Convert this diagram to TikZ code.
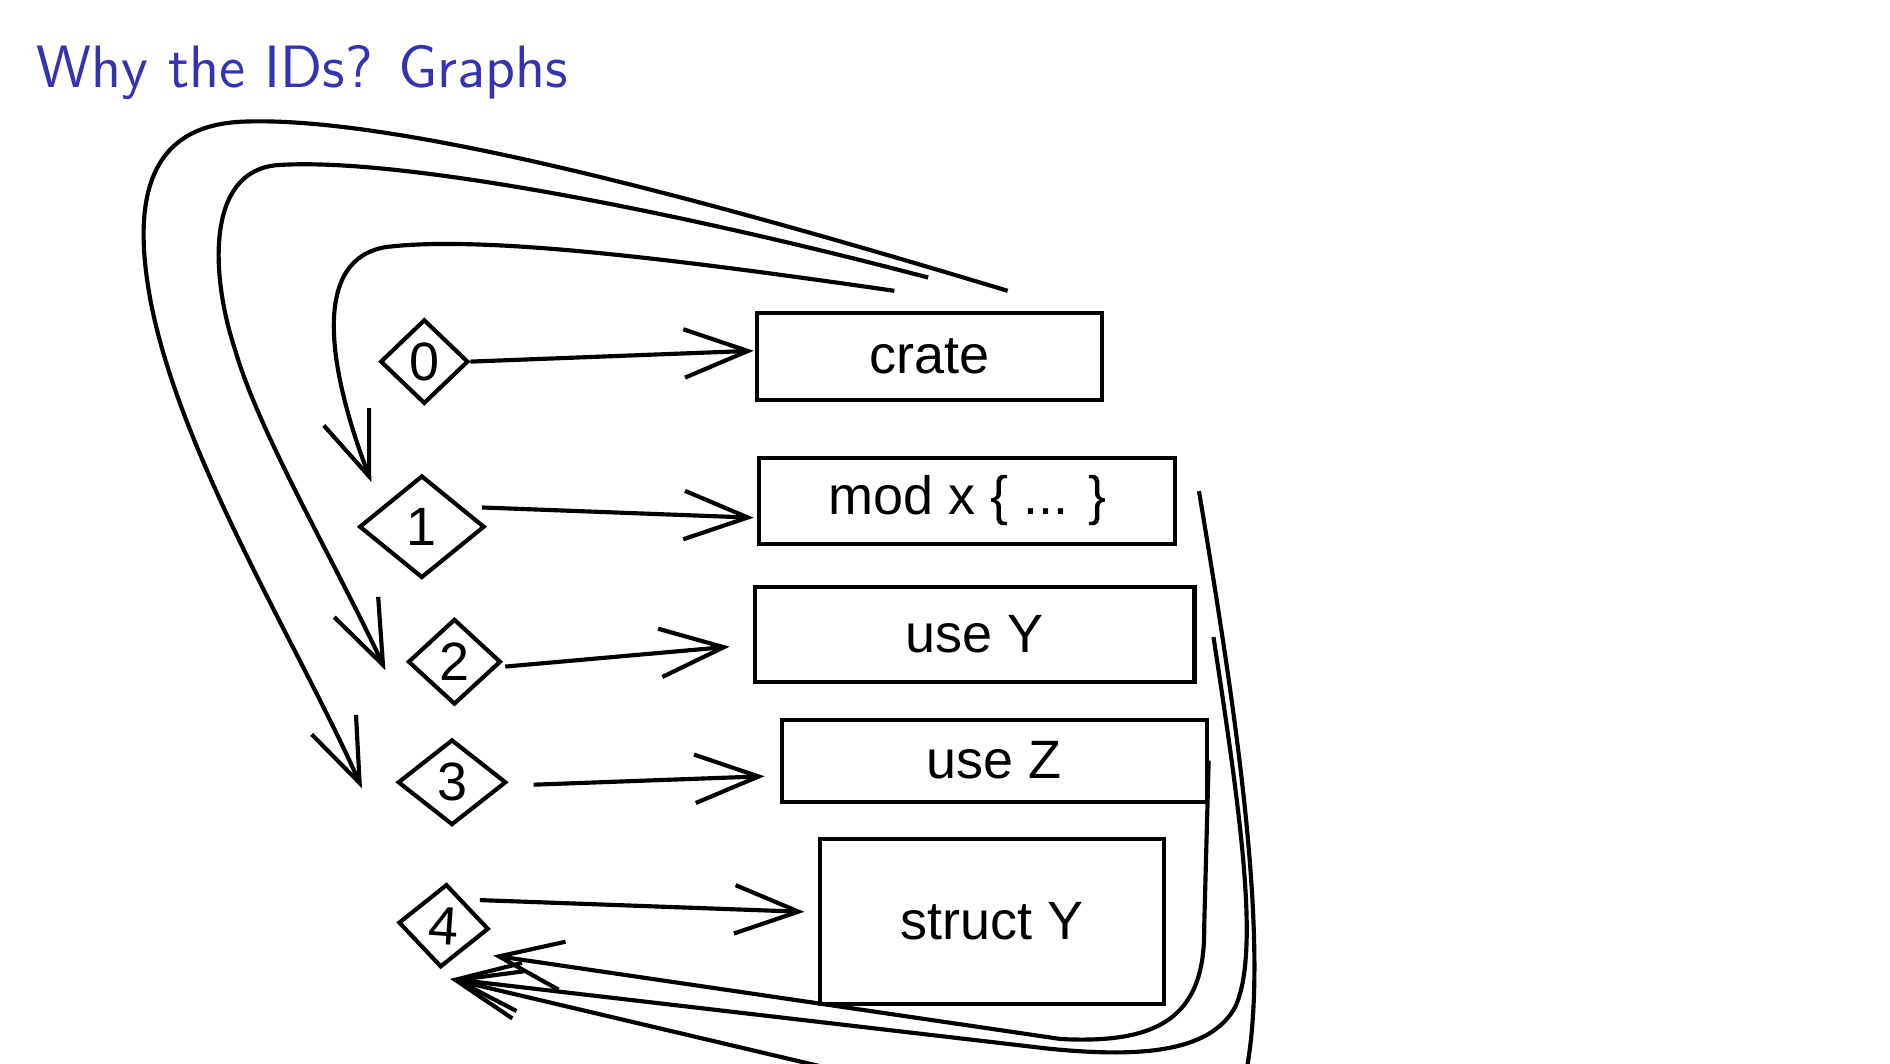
\documentclass[tikz,border=0pt]{standalone}
\usepackage{fontspec}
\newfontfamily\handfont{Liberation Sans}
\usetikzlibrary{arrows.meta,positioning,calc,shapes.geometric}
\definecolor{titleblue}{RGB}{51,51,179}

\tikzset{
  idnode/.style={draw, diamond, inner sep=0pt, line width=1pt,
    font=\handfont\fontsize{13}{15}\selectfont},
  itembox/.style={draw, rectangle, line width=1pt,
    font=\handfont\fontsize{13}{15}\selectfont},
  refarrow/.style={line width=1pt, -{Straight Barb[length=5.4mm,width=4.1mm]}},
}

\begin{document}
\begin{tikzpicture}[x=0.10204mm,y=-0.10204mm]
  \clip (0,0) rectangle (1568,882);
  \node[anchor=base west, inner sep=0pt, text=titleblue, font=\sffamily\fontsize{14.4}{17}\selectfont]
    (title) at (30,73) {Why the IDs? Graphs};

  % ids
  \node[idnode, minimum width=7.45mm, minimum height=7.14mm] (d0) at (352,300) {0};
  \node[idnode, minimum width=10.61mm, minimum height=8.67mm] (d1) at (350,437) {1};
  \node[idnode, minimum width=7.86mm, minimum height=7.24mm] (d2) at (377,549) {2};
  \node[idnode, minimum width=9.18mm, minimum height=7.24mm] (d3) at (375,649) {3};
  \node[idnode, minimum width=7.65mm, minimum height=7.04mm, rotate=-4] (d4) at (368,768) {4};

  % items
  \node[itembox, minimum width=29.18mm, minimum height=7.35mm] (crate) at (771,296) {crate};
  \node[itembox, minimum width=35.20mm, minimum height=7.24mm] (mod) at (802.5,415.5) {mod x \{ ... \}};
  \node[itembox, minimum width=37.24mm, minimum height=8.06mm] (useY) at (808.5,526.5) {use Y};
  \node[itembox, minimum width=35.92mm, minimum height=6.94mm] (useZ) at (825,631) {use Z};
  \node[itembox, minimum width=29.18mm, minimum height=13.98mm] (structY) at (823,764.5) {struct Y};

  % id -> item
  \draw[refarrow] (d0.east) -- ($(crate.west)+(-1,-5)$);
  \draw[refarrow] ($(d1.east)+(-4,-16)$) -- ($(mod.west)+(-3,14)$);
  \draw[refarrow] ($(d2.east)+(2,4)$) -- ($(useY.west)+(-19,10)$);
  \draw[refarrow] ($(d3.east)+(21,2)$) -- ($(useZ.west)+(-13,13)$);
  \draw[refarrow] ($(d4.east)+(-9,-24)$) -- ($(structY.west)+(-11,-8)$);

  % parent links
  \draw[refarrow] ($(crate.north)+(-29,-17)$) .. controls (560,215) and (400,195) .. (320,205)
    .. controls (260,215) and (270,300) .. ($(d1.north)+(-42,7)$);
  \draw[refarrow] ($(crate.north)+(-1,-28)$) .. controls (560,175) and (330,130) .. (230,137)
    .. controls (170,142) and (175,230) .. (195,290)
    .. controls (215,360) and (280,470) .. ($(d2.west)+(-17,7)$);
  \draw[refarrow] ($(crate.north)+(65,-17)$) .. controls (600,170) and (330,95) .. (200,101)
    .. controls (120,105) and (110,170) .. (125,250)
    .. controls (150,380) and (250,540) .. ($(d3.west)+(-28,5)$);

  \draw[refarrow] (useZ.east) -- (999,770) .. controls (1000,845) and (960,866) .. (880,862)
    -- ($(d4.east)+(2,22)$);
  \draw[refarrow] ($(useY.east)+(14,2)$) .. controls (1030,680) and (1045,790) .. (1025,835)
    .. controls (1005,872) and (950,878) .. (870,870) -- ($(d4.south)+(8,8)$);
  \draw[refarrow] ($(mod.east)+(18,-8)$) .. controls (1030,620) and (1075,900) .. (1000,960)
    -- ($(d4.south)+(8,8)$);
\end{tikzpicture}
\end{document}
